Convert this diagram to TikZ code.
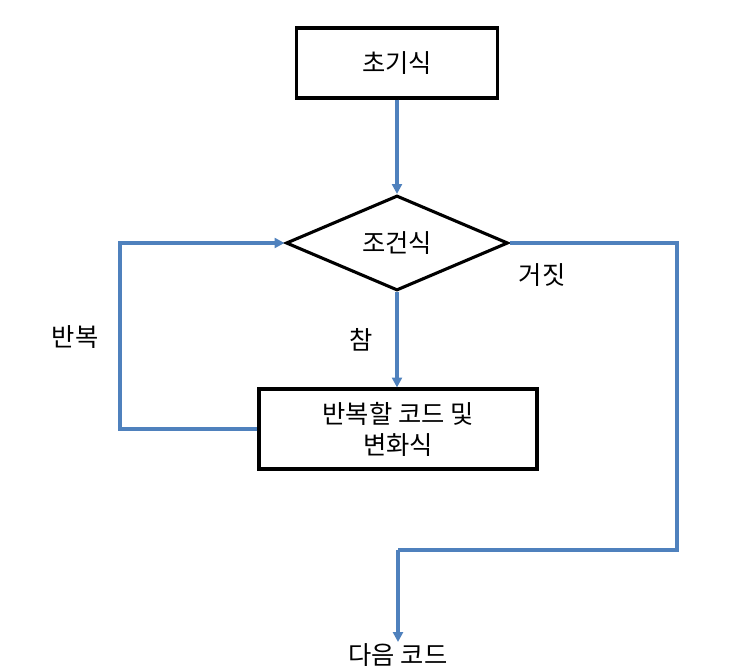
\documentclass[tikz,border=0pt]{standalone}
\usepackage{fontspec}
\setmainfont{Noto Sans CJK KR}
\usetikzlibrary{arrows.meta,positioning,shapes.geometric}

\begin{document}
\begin{tikzpicture}
 [
  font=\fontsize{18}{22}\selectfont,
  box/.style={rectangle,draw=black,line width=2.2pt,align=center,inner sep=2pt},
  decide/.style={diamond,draw=black,line width=2.2pt,inner sep=0pt,aspect=2.3,
                 minimum width=5.55cm,minimum height=2.375cm},
  flow/.style={draw={rgb,255:red,79;green,129;blue,189},line width=2.2pt,
               -{Triangle[width=7pt,length=7pt]}},
  link/.style={draw={rgb,255:red,79;green,129;blue,189},line width=2.2pt},
 ]
  \useasboundingbox (0,0) rectangle (18.725,-16.8);
  % boxes
  \node [box,minimum width=5.025cm,minimum height=1.75cm] (init) at (9.925,-1.575) {초기식};
  \node [decide] (cond) at (9.925,-6.075) {조건식};
  \node [box,minimum width=6.95cm,minimum height=2cm] (body) at (9.95,-10.725) {반복할 코드 및\\변화식};
  \node [inner sep=1pt,anchor=north] (next) at (9.95,-16.05) {다음 코드};
  % corners
  \coordinate (loopL) at (3,0);
  \coordinate (falseR) at (16.925,0);
  \coordinate (falseB) at (0,-13.75);
  % connectors
  \draw [flow] (init) -- (cond);
  \draw [flow] (cond.south) -- (cond.south |- body.north);
  \draw [flow] (body.west) -| (loopL |- cond.west) -- (cond.west);
  \draw [link] (cond.east) -| (falseR |- falseB) -- (next.north |- falseB);
  \draw [flow] (next.north |- falseB) -- (next.north);
  % labels
  \node (lblfalse) at (13.55,-6.875) {거짓};
  \node (lblloop) at (1.875,-8.425) {반복};
  \node (lbltrue) at (9.025,-8.5) {참};
\end{tikzpicture}
\end{document}
